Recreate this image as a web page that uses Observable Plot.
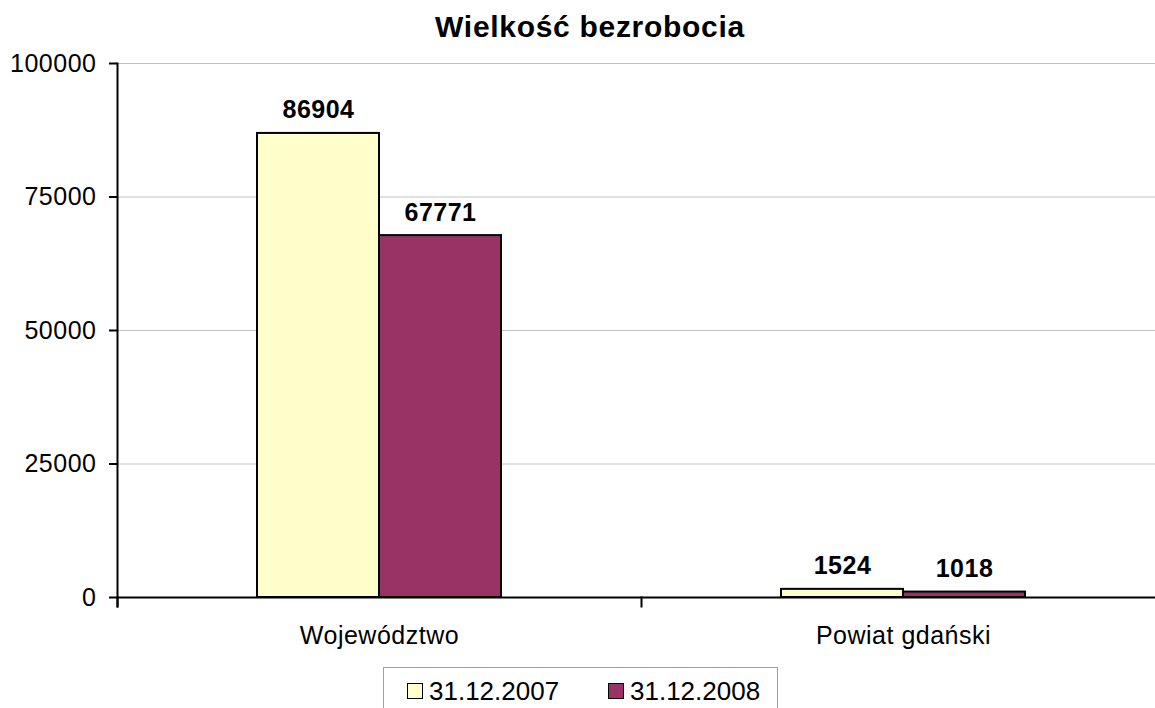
<!DOCTYPE html>
<html>
<head>
<meta charset="utf-8">
<script src="https://cdn.jsdelivr.net/npm/d3@7"></script>
<script src="https://cdn.jsdelivr.net/npm/@observablehq/plot@0.6"></script>
<style>
  html, body { margin: 0; padding: 0; background: #fff; overflow: hidden; }
  body { width: 1155px; height: 708px; font-family: "Liberation Sans", Arial, sans-serif; position: relative; }
  #title { box-sizing: border-box; width: 1180px; height: 44px; padding-top: 12px; text-align: center;
           font-size: 30px; font-weight: bold; line-height: 1; color: #000; letter-spacing: 0.7px; }
  #legend { position: absolute; left: 383px; top: 667px; width: 395px; height: 60px; box-sizing: border-box;
            border: 1px solid #a0a0a0; font-size: 26px; line-height: 1; color: #000; }
  .item { position: absolute; top: 10px; display: flex; align-items: center; }
  .sw { width: 14px; height: 14px; border: 1px solid #000; margin-right: 6px; }
  svg text { letter-spacing: 0.5px; }
</style>
</head>
<body>
<div id="title">Wielkość bezrobocia</div>
<div id="chart"></div>
<div id="legend"></div>
<script>
const categories = ["Województwo", "Powiat gdański"];
const series = ["31.12.2007", "31.12.2008"];
const values2007 = [86904, 1524];
const values2008 = [67771, 1018];
const yTicks = [0, 25000, 50000, 75000, 100000];
const colors = ["#FFFFCC", "#993366"];

const data = [];
categories.forEach((c, i) => {
  data.push({category: c, series: series[0], value: values2007[i]});
  data.push({category: c, series: series[1], value: values2008[i]});
});

const marginTop = 19, marginBottom = 62, plotH = 534;
const chart = Plot.plot({
  width: 1165,
  height: marginTop + plotH + marginBottom,
  marginTop, marginBottom, marginLeft: 117, marginRight: 0,
  style: {fontFamily: "Liberation Sans, Arial, sans-serif", fontSize: "25px", color: "#000", background: "#fff", maxWidth: "none", overflow: "visible"},
  fx: {domain: categories, padding: 0},
  x: {domain: series, paddingInner: 0, paddingOuter: 1.1475, axis: null},
  y: {domain: [0, 100000]},
  color: {domain: series, range: colors},
  marks: [
    Plot.ruleY(yTicks.slice(1), {stroke: "#c0c0c0", strokeWidth: 1}),
    Plot.barY(data, {fx: "category", x: "series", y: "value", fill: "series", stroke: "#000", strokeWidth: 2}),
    Plot.text(data, {fx: "category", x: "series", y: "value", text: d => String(d.value), lineAnchor: "bottom", dy: -15, fontWeight: "bold", fontSize: 25}),
    Plot.ruleY([0], {stroke: "#000", strokeWidth: 2}),
    Plot.frame({anchor: "left", facetAnchor: "left", stroke: "#000", strokeWidth: 2, insetBottom: -9}),
    Plot.frame({anchor: "left", stroke: "#000", strokeWidth: 2, insetTop: plotH, insetBottom: -9}),
    Plot.axisY({ticks: yTicks, tickSize: 8, tickPadding: 13, tickFormat: d => String(d), label: null, strokeWidth: 2, fontSize: 25}),
    Plot.axisFx({anchor: "bottom", tickSize: 0, tickPadding: 29, label: null, fontSize: 25})
  ]
});
document.getElementById("chart").appendChild(chart);

const legend = document.getElementById("legend");
const lefts = [23, 224];
series.forEach((s, i) => {
  const item = document.createElement("div");
  item.className = "item";
  item.style.left = lefts[i] + "px";
  const sw = document.createElement("div");
  sw.className = "sw";
  sw.style.background = colors[i];
  const t = document.createElement("span");
  t.textContent = s;
  item.appendChild(sw);
  item.appendChild(t);
  legend.appendChild(item);
});
</script>
</body>
</html>
